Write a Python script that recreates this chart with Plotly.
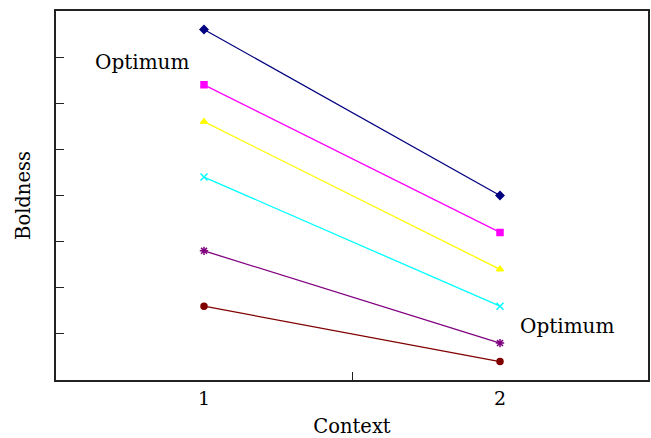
import plotly.graph_objects as go

contexts = [1, 2]
series_names = ["s1", "s2", "s3", "s4", "s5", "s6"]
series_values = [
    [7.6, 4.0],
    [6.4, 3.2],
    [5.6, 2.4],
    [4.4, 1.6],
    [2.8, 0.8],
    [1.6, 0.4],
]
colors = ["#000080", "#ff00ff", "#ffff00", "#00ffff", "#800080", "#800000"]
symbols = ["diamond", "square", "triangle-up", "x-thin", "asterisk", "circle"]
x_tick_labels = ["1", "2"]

FONT = "DejaVu Serif"

fig = go.Figure()
for name, vals, c, s in zip(series_names, series_values, colors, symbols):
    fig.add_trace(go.Scatter(
        x=contexts, y=vals, mode="lines+markers", name=name,
        line=dict(color=c, width=1.3),
        marker=dict(symbol=s, size=6 if s not in ("x-thin", "asterisk") else 7,
                    color=c, line=dict(color=c, width=1.5)),
        showlegend=False,
    ))

fig.add_annotation(x=0.79, y=6.89, text="Optimum", showarrow=False,
                   font=dict(family=FONT, size=20, color="black"))
fig.add_annotation(x=2.227, y=1.17, text="Optimum", showarrow=False,
                   font=dict(family=FONT, size=20, color="black"))

fig.update_layout(
    width=651, height=438,
    margin=dict(l=56, r=3, t=11, b=58),
    plot_bgcolor="white", paper_bgcolor="white",
    font=dict(family=FONT, size=19, color="black"),
    xaxis=dict(
        range=[0.5, 2.5], tickvals=contexts, ticktext=x_tick_labels,
        tickfont=dict(family=FONT, size=19),
        ticks="", showgrid=False, zeroline=False, automargin=False,
        showline=True, mirror=True, linecolor="#222", linewidth=1.5,
        title=dict(text="Context", standoff=14, font=dict(family=FONT, size=19.5)),
        minor=dict(tickvals=[1.5], ticks="inside", ticklen=8, tickcolor="#222", tickwidth=1.2, showgrid=False),
    ),
    yaxis=dict(
        range=[0, 8], tickvals=[1, 2, 3, 4, 5, 6, 7], showticklabels=False,
        ticks="inside", ticklen=8, tickcolor="#222", tickwidth=1.2,
        showgrid=False, zeroline=False, automargin=False,
        showline=True, mirror=True, linecolor="#222", linewidth=1.5,
        title=dict(text="Boldness", standoff=18, font=dict(family=FONT, size=19.5)),
    ),
)

fig.write_html("out.html", config={"displayModeBar": False},
               post_script="document.body.style.margin='0';")
